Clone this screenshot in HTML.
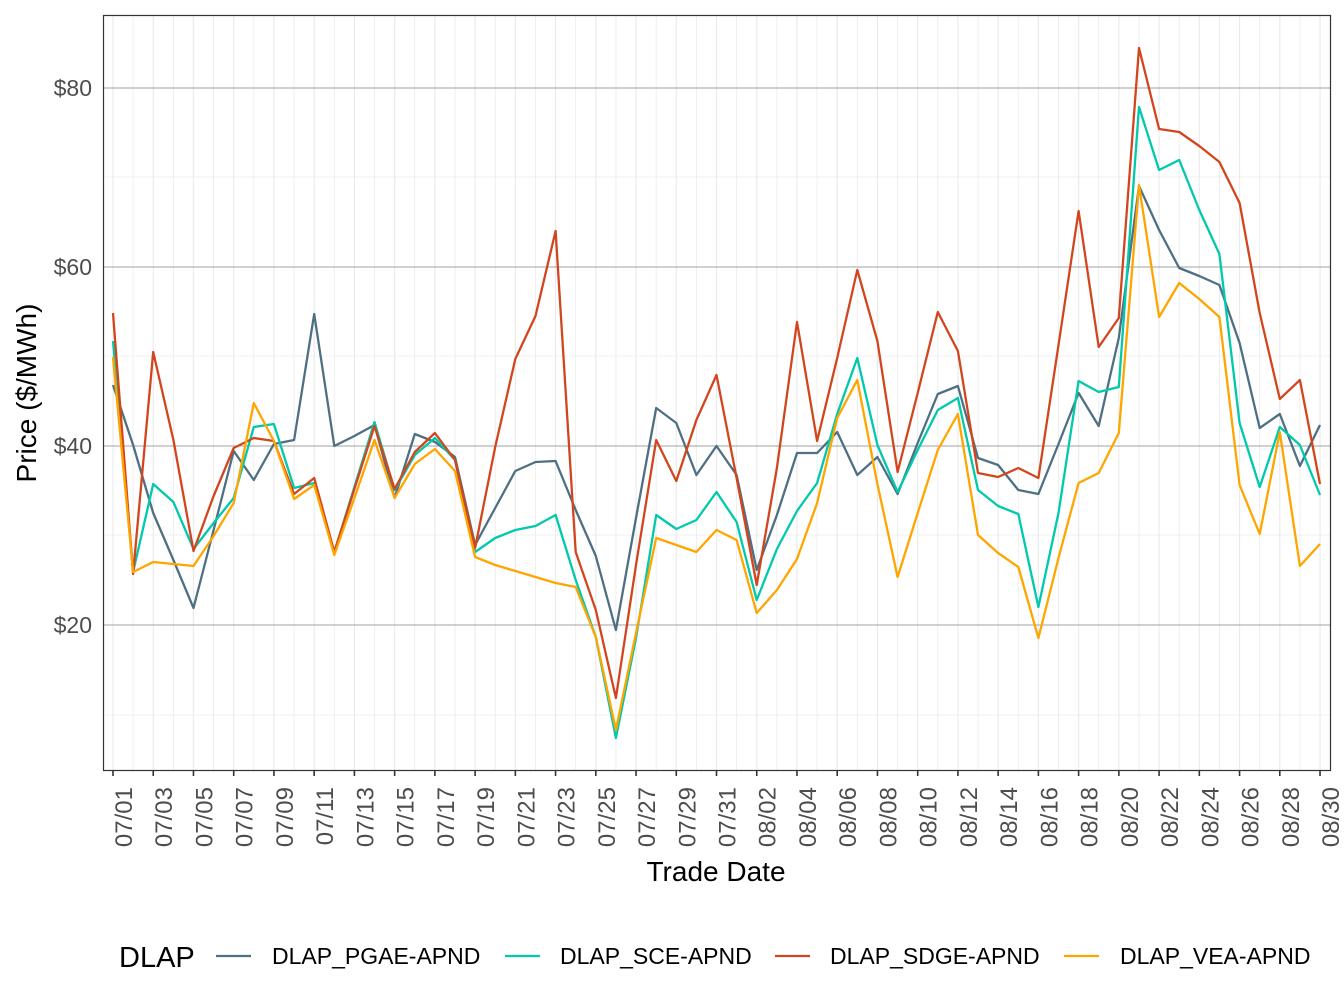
<!DOCTYPE html>
<html><head><meta charset="utf-8"><style>
body{margin:0;background:#fff;}
svg{display:block;font-family:"Liberation Sans",sans-serif;}
</style></head><body>
<svg id="s" width="1344" height="1008" xmlns="http://www.w3.org/2000/svg">
<rect width="1344" height="1008" fill="#fff"/>
<g id="grid"></g>
<g id="series" fill="none" stroke-width="2.3" stroke-linejoin="round"></g>
<rect x="103.5" y="15.5" width="1227" height="755" fill="none" stroke="#333" stroke-width="1.2"/>
<g id="axes"></g>
<g font-size="23" fill="#4D4D4D" text-anchor="end">
<text x="92" y="96">$80</text><text x="92" y="275">$60</text><text x="92" y="454">$40</text><text x="92" y="633">$20</text>
</g>
<text x="716" y="881" font-size="28" text-anchor="middle" fill="#000">Trade Date</text>
<text transform="translate(36,393) rotate(-90)" font-size="28" text-anchor="middle" fill="#000">Price ($/MWh)</text>
<text x="119" y="967" font-size="29" fill="#000">DLAP</text>
<g stroke-width="2.3">
<line x1="216" y1="956" x2="251" y2="956" stroke="#4E7082"/>
<line x1="505" y1="956" x2="540" y2="956" stroke="#00C9AC"/>
<line x1="775" y1="956" x2="810" y2="956" stroke="#D2461F"/>
<line x1="1064" y1="956" x2="1099" y2="956" stroke="#FFA500"/>
</g>
<g font-size="23" fill="#000">
<text x="272" y="964">DLAP_PGAE-APND</text>
<text x="560" y="964">DLAP_SCE-APND</text>
<text x="830" y="964">DLAP_SDGE-APND</text>
<text x="1120" y="964">DLAP_VEA-APND</text>
</g>
</svg>
<script>
var ns="http://www.w3.org/2000/svg";
function X(i){return 113+20.117*i;}
var g=document.getElementById('grid');
function ln(p,x1,y1,x2,y2,c,w){var l=document.createElementNS(ns,'line');l.setAttribute('x1',x1);l.setAttribute('y1',y1);l.setAttribute('x2',x2);l.setAttribute('y2',y2);l.setAttribute('stroke',c);l.setAttribute('stroke-width',w);p.appendChild(l);}
[715,535,356,177].forEach(function(y){ln(g,104,y,1330,y,'#EBEBEB',0.8);});
for(var i=0;i<61;i++){ln(g,X(i),16,X(i),770,'#EBEBEB',i%2==0?1.2:0.8);}
[88,267,446,625].forEach(function(y){ln(g,104,y,1330,y,'#A0A0A0',1);});
var ax=document.getElementById('axes');
var d0=new Date(2020,6,1);
for(var i=0;i<61;i+=2){ln(ax,X(i),770,X(i),776,'#333',1.6);
var d=new Date(d0.getTime()+i*86400000);var t=document.createElementNS(ns,'text');
var s=('0'+(d.getMonth()+1)).slice(-2)+'/'+('0'+d.getDate()).slice(-2);
t.textContent=s;t.setAttribute('font-size','24');t.setAttribute('fill','#4D4D4D');t.setAttribute('text-anchor','end');
t.setAttribute('transform','translate('+(X(i)+19)+',787) rotate(-90)');ax.appendChild(t);}
var data={
"#4E7082":[385,445,513,560,608,530,451,480,444,440,314,446,436,425,498,434,442,457,545,508,471,462,461,510,556,630,518,408,423,475,446,475,570,515,453,453,432,475,457,494,443,394,386,458,465,490,494,444,393,426,338,186,230,268,276,285,343,428,414,466,425],
"#00C9AC":[341,572,484,502,549,523,498,427,424,488,483,552,487,422,490,455,438,460,552,538,530,526,515,580,637,738,638,515,529,520,492,522,600,549,511,483,414,358,445,492,450,410,398,490,506,514,607,513,381,392,387,107,170,160,210,254,423,487,427,445,495],
"#D2461F":[313,574,352,440,551,496,448,438,441,494,478,552,489,426,489,452,433,460,548,447,359,316,231,552,610,698,565,440,481,420,375,478,585,468,322,441,358,270,341,472,393,312,351,473,477,468,478,345,211,347,318,48,129,132,146,162,203,313,399,380,484],
"#FFA500":[357,572,562,564,566,536,503,403,441,499,485,555,498,440,498,464,449,471,557,565,571,577,583,587,637,730,633,538,545,552,530,540,613,590,559,503,418,380,484,577,513,450,414,535,553,567,638,558,483,473,433,185,317,283,299,317,485,534,432,566,544]};
var sg=document.getElementById('series');
for(var c in data){var p=document.createElementNS(ns,'polyline');
p.setAttribute('points',data[c].map(function(y,i){return X(i).toFixed(1)+','+y;}).join(' '));
p.setAttribute('stroke',c);sg.appendChild(p);}
</script>
</body></html>
